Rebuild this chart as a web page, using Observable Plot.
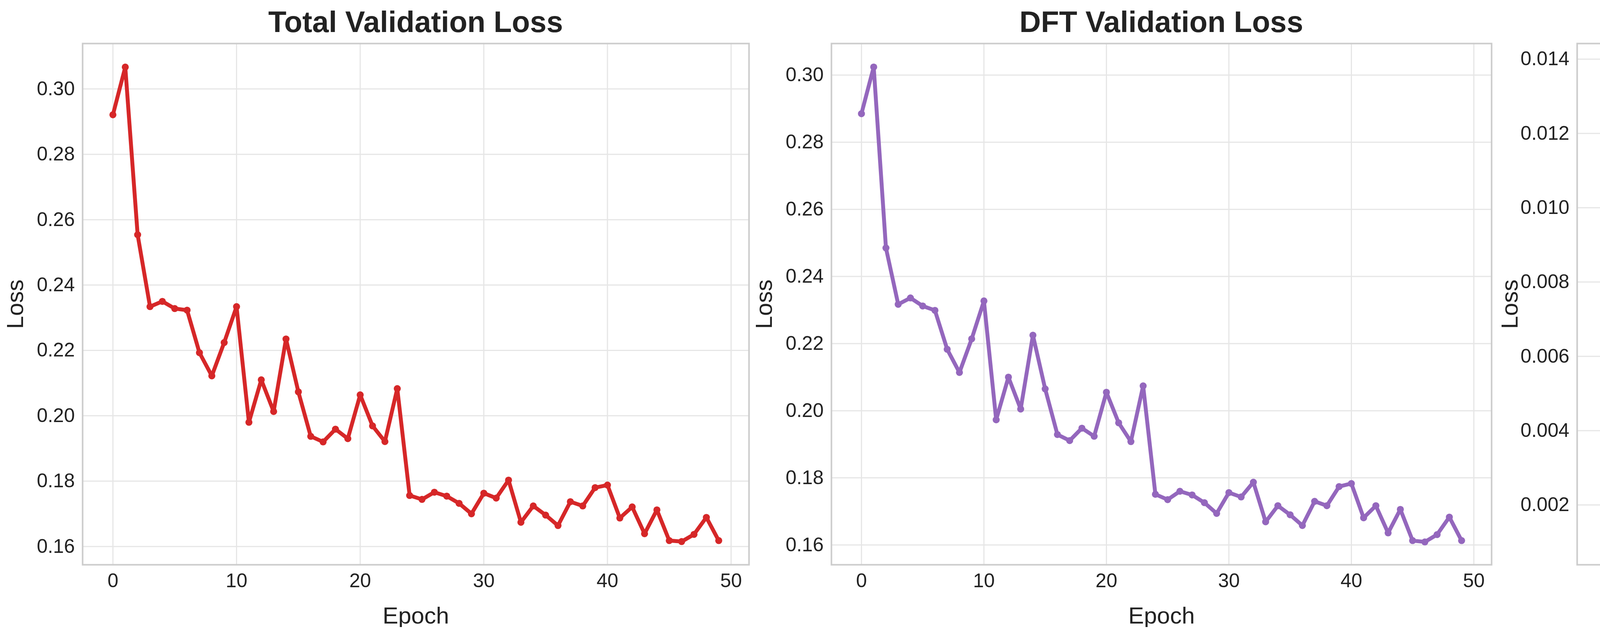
<!DOCTYPE html>
<html><head><meta charset="utf-8">
<script src="https://cdn.jsdelivr.net/npm/d3@7"></script>
<script src="https://cdn.jsdelivr.net/npm/@observablehq/plot@0.6"></script>
<style>
body{margin:0;background:#fff;width:5813px;height:1611px;position:relative;overflow:hidden;font-family:"Liberation Sans",Arial,sans-serif;}
.title{position:absolute;font-weight:bold;font-size:76px;color:#222;text-align:center;top:12px;}
.panel{position:absolute;}
</style></head><body>
<script>
const epochs = d3.range(50);
const totalLoss = [0.2921,0.3067,0.2554,0.2334,0.2350,0.2328,0.2323,0.2193,0.2122,0.2224,0.2334,0.1980,0.2110,0.2013,0.2235,0.2073,0.1937,0.1920,0.1959,0.1930,0.2064,0.1969,0.1921,0.2083,0.1756,0.1744,0.1766,0.1754,0.1732,0.1700,0.1763,0.1748,0.1803,0.1674,0.1724,0.1696,0.1664,0.1737,0.1724,0.1780,0.1788,0.1687,0.1721,0.1639,0.1712,0.1618,0.1615,0.1637,0.1689,0.1618];
const dftLoss = [0.2885,0.3024,0.2485,0.2317,0.2336,0.2312,0.2299,0.2183,0.2114,0.2214,0.2327,0.1973,0.2100,0.2005,0.2225,0.2065,0.1929,0.1911,0.1948,0.1924,0.2055,0.1964,0.1908,0.2074,0.1751,0.1735,0.1760,0.1749,0.1726,0.1694,0.1756,0.1743,0.1787,0.1669,0.1717,0.1690,0.1658,0.1730,0.1717,0.1774,0.1783,0.1681,0.1717,0.1636,0.1706,0.1613,0.1609,0.1631,0.1683,0.1613];
const sparsityLoss = [0.00701,0.00856,0.01378,0.00331,0.00224,0.00317,0.00495,0.00212,0.00175,0.00237,0.00153,0.00153,0.00175,0.00168,0.00151,0.00209,0.00144,0.00179,0.00212,0.00162,0.00135,0.00144,0.00271,0.00161,0.00116,0.00130,0.00122,0.00120,0.00126,0.00156,0.00156,0.00112,0.00318,0.00130,0.00144,0.00123,0.00117,0.00120,0.00172,0.00177,0.00117,0.00122,0.00108,0.00102,0.00112,0.00103,0.00106,0.00131,0.00106,0.00102];
const xTicks = [0,10,20,30,40,50];
const lossTicks = [0.16,0.18,0.20,0.22,0.24,0.26,0.28,0.30];
const sparsityTicks = [0.002,0.004,0.006,0.008,0.010,0.012,0.014];

const panels = [
  {title:"Total Validation Loss", values: totalLoss, color:"#d62728", left:211, width:1706, domain:[0.1544,0.3139], ticks:lossTicks, fmt:d3.format(".2f")},
  {title:"DFT Validation Loss", values: dftLoss, color:"#9467bd", left:2128, width:1690, domain:[0.1541,0.3094], ticks:lossTicks, fmt:d3.format(".2f")},
  {title:"Sparsity Validation Loss", values: sparsityLoss, color:"#8c564b", left:4037, width:1698, domain:[0.000389,0.01442], ticks:sparsityTicks, fmt:d3.format(".3f")}
];
const frameTop = 111, frameH = 1335, mL = 210, mT = 10, mR = 10, mB = 160;
for (const p of panels) {
  const data = epochs.map((e,i)=>({epoch:e, loss:p.values[i]}));
  const t = document.createElement("div");
  t.className = "title"; t.textContent = p.title;
  t.style.left = p.left + "px"; t.style.width = p.width + "px";
  document.body.appendChild(t);
  const chart = Plot.plot({
    width: p.width + mL + mR, height: frameH + mT + mB,
    marginLeft: mL, marginTop: mT, marginRight: mR, marginBottom: mB,
    style:{fontFamily:"'Liberation Sans', Arial, sans-serif", fontSize:"50px", color:"#222", background:"transparent"},
    x:{domain:[-2.45,51.45], ticks:xTicks, tickSize:0, tickPadding:22, label:"Epoch", labelAnchor:"center", labelArrow:"none", labelOffset:150, tickFormat:d3.format("d")},
    y:{domain:p.domain, ticks:p.ticks, tickSize:0, tickPadding:20, tickFormat:p.fmt, label:"Loss", labelAnchor:"center", labelArrow:"none", labelOffset:195},
    marks:[
      Plot.gridX(xTicks,{stroke:"#e6e6e6", strokeOpacity:1, strokeWidth:3}),
      Plot.gridY(p.ticks,{stroke:"#e6e6e6", strokeOpacity:1, strokeWidth:3}),
      Plot.frame({stroke:"#cccccc", strokeWidth:4}),
      Plot.line(data,{x:"epoch", y:"loss", stroke:p.color, strokeWidth:10}),
      Plot.dot(data,{x:"epoch", y:"loss", fill:p.color, r:9})
    ]
  });
  chart.querySelectorAll("g[aria-label='x-axis label'], g[aria-label='y-axis label']").forEach(el=>el.setAttribute("font-size","60px"));
  const d = document.createElement("div");
  d.className = "panel";
  d.style.left = (p.left - mL) + "px"; d.style.top = (frameTop - mT) + "px";
  d.appendChild(chart);
  document.body.appendChild(d);
}
</script>
</body></html>
